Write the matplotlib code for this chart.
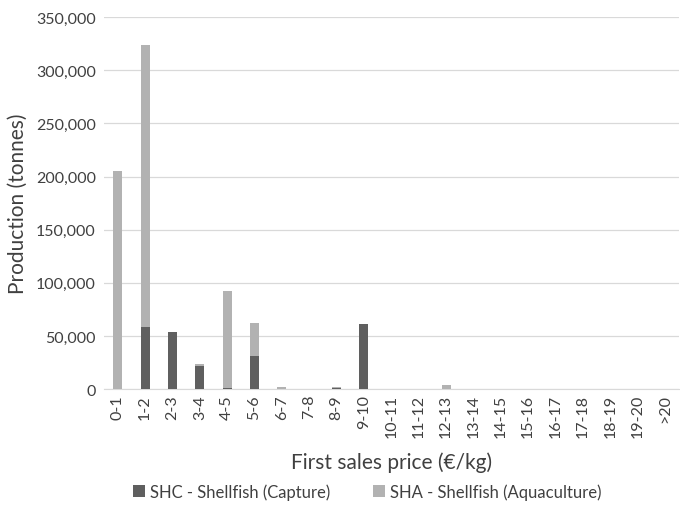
import matplotlib.pyplot as plt
import numpy as np
from matplotlib.ticker import FuncFormatter

plt.rcParams['font.family'] = ['Lato', 'DejaVu Sans']

# =============================
# DATA
# =============================
categories = ["0-1", "1-2", "2-3", "3-4", "4-5", "5-6", "6-7", "7-8", "8-9", "9-10",
              "10-11", "11-12", "12-13", "13-14", "14-15", "15-16", "16-17", "17-18",
              "18-19", "19-20", ">20"]
shc_capture = [0, 58100, 54000, 21400, 1500, 30800, 0, 0, 1500, 60900,
               0, 0, 0, 0, 0, 0, 0, 0, 0, 0, 0]
sha_aquaculture = [205300, 266100, 0, 2400, 91100, 31300, 1600, 0, 500, 0,
                   0, 0, 3500, 0, 0, 0, 0, 0, 0, 0, 0]

# =============================
# PLOT
# =============================
fig = plt.figure(figsize=(6.8, 5.06), dpi=100)
ax = fig.add_axes([0.153, 0.229, 0.845, 0.735])

x = np.arange(len(categories))
width = 0.33
ax.bar(x, shc_capture, width, color="#5f5f5f", label="SHC - Shellfish (Capture)", zorder=3)
ax.bar(x, sha_aquaculture, width, bottom=shc_capture, color="#b2b2b2",
       label="SHA - Shellfish (Aquaculture)", zorder=3)

ax.set_xlim(-0.5, len(categories) - 0.5)
ax.set_ylim(0, 350000)
ax.set_yticks(np.arange(0, 350001, 50000))
ax.yaxis.set_major_formatter(FuncFormatter(lambda v, p: f"{int(v):,}"))
ax.grid(axis="y", color="#d9d9d9", linewidth=0.9, zorder=0)
ax.set_xticks(x)
ax.set_xticklabels(categories, rotation=90)

for s in ["top", "right", "left"]:
    ax.spines[s].set_visible(False)
ax.spines["bottom"].set_color("#d9d9d9")
ax.tick_params(axis="both", length=0, labelsize=11.5, colors="#404040")
ax.tick_params(axis="y", pad=6)

ax.set_ylabel("Production (tonnes)", fontsize=15, color="#404040", labelpad=6)
ax.set_xlabel("First sales price (€/kg)", fontsize=15, color="#404040", labelpad=10)

fig.legend(loc="center", bbox_to_anchor=(0.54, 0.026), ncol=2, frameon=False,
           fontsize=12, handlelength=0.7, handleheight=0.7, columnspacing=2.6,
           handletextpad=0.3, labelcolor="#404040")

fig.savefig("out.png", dpi=100)
